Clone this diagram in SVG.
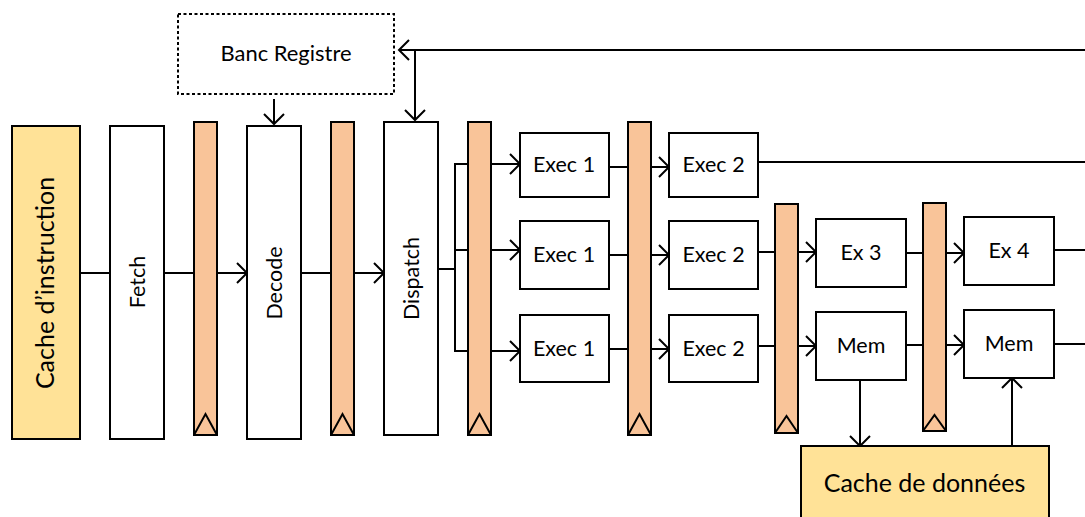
<svg xmlns="http://www.w3.org/2000/svg" width="1085" height="517" viewBox="0 0 1085 517">
<defs>
<marker id="a" markerUnits="userSpaceOnUse" markerWidth="22" markerHeight="22" refX="19" refY="11" orient="auto"><path d="M9 1L19 11L9 21" fill="none" stroke="#000" stroke-width="2"/></marker>
</defs>
<style>
.b{fill:#fff;stroke:#000;stroke-width:2}
.y{fill:#ffe297;stroke:#000;stroke-width:2}
.r{fill:#f9c499;stroke:#000;stroke-width:2}
.t{fill:none;stroke:#000;stroke-width:2}
.c{fill:none;stroke:#000;stroke-width:2}
.ar{marker-end:url(#a)}
text{font-family:"Lato","Open Sans",sans-serif;font-size:21.500px;fill:#000;text-anchor:middle}
.big{font-size:25px}
</style>
<rect width="1085" height="517" fill="#fff"/>
<g id="connectors">
<path class="c" d="M80 273H110"/>
<path class="c ar" d="M164 273H247"/>
<path class="c ar" d="M301 273H384"/>
<path class="c" d="M438 269H455"/>
<path class="c ar" d="M455 250V164H520"/>
<path class="c ar" d="M455 250V351H520"/>
<path class="c ar" d="M455 250H520"/>
<path class="c ar" d="M609 167H669"/>
<path class="c ar" d="M609 255H669"/>
<path class="c ar" d="M609 349H669"/>
<path class="c ar" d="M758 252H816"/>
<path class="c ar" d="M758 346H816"/>
<path class="c ar" d="M906 253H964"/>
<path class="c ar" d="M906 345H964"/>
<path class="c" d="M758 162H1085"/>
<path class="c" d="M1054 250H1085"/>
<path class="c" d="M1054 344H1085"/>
<path class="c ar" d="M1085 50H399"/>
<path class="c ar" d="M415 50V120"/>
<path class="c ar" d="M274 99V124"/>
<path class="c ar" d="M860 380V446"/>
<path class="c ar" d="M1012 446V378"/>
</g>
<g id="cache-instruction"><rect class="y" x="12" y="126" width="68" height="313"/><text class="big" transform="translate(54 283) rotate(-90)">Cache d’instruction</text></g>
<g id="fetch"><rect class="b" x="110" y="126" width="54" height="313"/><text transform="translate(145 282) rotate(-90)">Fetch</text></g>
<g id="reg1"><rect class="r" x="194" y="122" width="23" height="313"/><path class="t" d="M194 435L205.500 414L217 435"/></g>
<g id="decode"><rect class="b" x="247" y="126" width="54" height="313"/><text transform="translate(282 283) rotate(-90)">Decode</text></g>
<g id="reg2"><rect class="r" x="331" y="122" width="23" height="313"/><path class="t" d="M331 435L342.500 414L354 435"/></g>
<g id="dispatch"><rect class="b" x="384" y="122" width="54" height="313"/><text transform="translate(419 278.500) rotate(-90)">Dispatch</text></g>
<g id="reg3"><rect class="r" x="468" y="122" width="23" height="313"/><path class="t" d="M468 435L479.500 414L491 435"/></g>
<g id="reg4"><rect class="r" x="628" y="122" width="23" height="313"/><path class="t" d="M628 435L639.500 414L651 435"/></g>
<g id="reg5"><rect class="r" x="775" y="204" width="23" height="229"/><path class="t" d="M775 433L786.500 416L798 433"/></g>
<g id="reg6"><rect class="r" x="923" y="203" width="23" height="228"/><path class="t" d="M923 431L934.500 415L946 431"/></g>
<g id="banc"><rect x="178" y="14" width="216" height="80" fill="#fff" stroke="#000" stroke-width="2" stroke-dasharray="3 2.500"/><text x="286" y="61" textLength="131" lengthAdjust="spacingAndGlyphs">Banc Registre</text></g>
<g id="exec1a"><rect class="b" x="520" y="133" width="89" height="64"/><text x="564" y="172">Exec 1</text></g>
<g id="exec1b"><rect class="b" x="520" y="221" width="89" height="68"/><text x="564" y="262">Exec 1</text></g>
<g id="exec1c"><rect class="b" x="520" y="315" width="89" height="67"/><text x="564" y="356">Exec 1</text></g>
<g id="exec2a"><rect class="b" x="669" y="133" width="89" height="64"/><text x="713.500" y="172">Exec 2</text></g>
<g id="exec2b"><rect class="b" x="669" y="221" width="89" height="68"/><text x="713.500" y="262">Exec 2</text></g>
<g id="exec2c"><rect class="b" x="669" y="315" width="89" height="67"/><text x="713.500" y="356">Exec 2</text></g>
<g id="ex3"><rect class="b" x="816" y="219" width="90" height="68"/><text x="861" y="260">Ex 3</text></g>
<g id="mem1"><rect class="b" x="816" y="312" width="90" height="68"/><text x="861" y="353">Mem</text></g>
<g id="ex4"><rect class="b" x="964" y="217" width="90" height="68"/><text x="1009" y="258">Ex 4</text></g>
<g id="mem2"><rect class="b" x="964" y="310" width="90" height="68"/><text x="1009" y="351">Mem</text></g>
<g id="cache-donnees"><rect class="y" x="801" y="446" width="248" height="80"/><text class="big" x="924.500" y="492">Cache de données</text></g>
</svg>
